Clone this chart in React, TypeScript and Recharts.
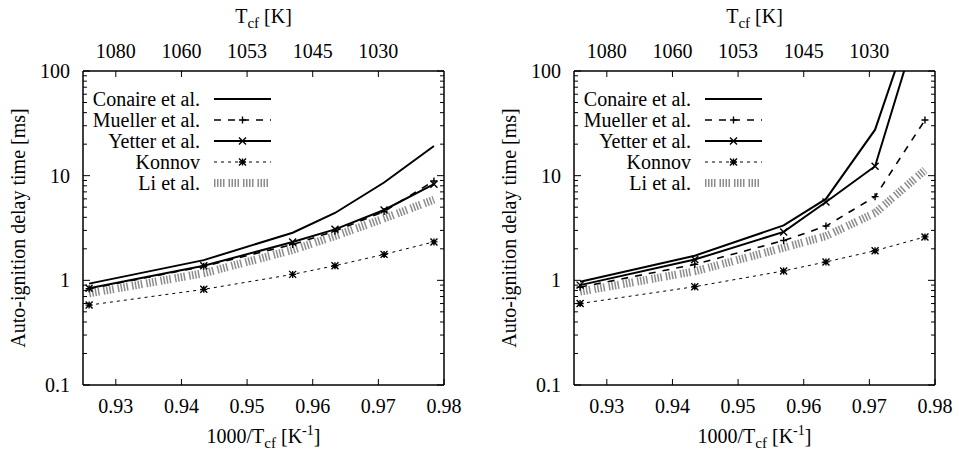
import { Legend, Line, LineChart, XAxis, YAxis } from "recharts";

const FONT = "Liberation Serif";

// 1000/T_cf at the six simulated temperatures
const invT = [0.92593, 0.9434, 0.95694, 0.96339, 0.97087, 0.97847];

const xTicks = [0.93, 0.94, 0.95, 0.96, 0.97, 0.98];
const topTicks = [0.93, 0.94, 0.95, 0.96, 0.97];
const topLabels = ["1080", "1060", "1053", "1045", "1030"];
const yMajor = [0.1, 1, 10, 100];
const yTicks = [
	0.1, 0.2, 0.3, 0.4, 0.5, 0.6, 0.7, 0.8, 0.9, 1, 2, 3, 4, 5, 6, 7, 8, 9, 10,
	20, 30, 40, 50, 60, 70, 80, 90, 100,
];

// left panel
const leftConaire = [0.93, 1.56, 2.85, 4.4, 8.6, 19.2];
const leftMueller = [0.83, 1.36, 2.2, 2.95, 4.55, 8.9];
const leftYetter = [0.84, 1.38, 2.32, 3.07, 4.7, 8.3];
const leftKonnov = [0.58, 0.82, 1.14, 1.38, 1.77, 2.33];
const leftLi = [0.75, 1.17, 1.95, 2.65, 3.9, 5.9];

// right panel
const rightConaire = [0.97, 1.72, 3.35, 6.0, 27.5, 690];
const rightMueller = [0.86, 1.42, 2.4, 3.3, 6.3, 34];
const rightYetter = [0.9, 1.58, 2.9, 5.6, 12.3, 450];
const rightKonnov = [0.6, 0.87, 1.23, 1.5, 1.92, 2.6];
const rightLi = [0.78, 1.22, 2.05, 2.65, 4.4, 11.3];

type MarkerKind = "plus" | "cross" | "star";

const series: {
	key: string;
	name: string;
	color: string;
	width: number;
	dash?: string;
	marker?: MarkerKind;
}[] = [
	{ key: "conaire", name: "Conaire et al.", color: "#000", width: 2 },
	{ key: "mueller", name: "Mueller et al.", color: "#000", width: 1.6, dash: "7 7", marker: "plus" },
	{ key: "yetter", name: "Yetter et al.", color: "#000", width: 2, marker: "cross" },
	{ key: "konnov", name: "Konnov", color: "#000", width: 1, dash: "3 4", marker: "star" },
	{ key: "li", name: "Li et al.", color: "#8c8c8c", width: 8, dash: "1.5 1.5 1.5 1.5 1.5 1.5 1.5 4" },
];

const buildRows = (c: number[], m: number[], y: number[], k: number[], l: number[]) =>
	invT.map((x, i) => ({ x, conaire: c[i], mueller: m[i], yetter: y[i], konnov: k[i], li: l[i] }));

const leftData = buildRows(leftConaire, leftMueller, leftYetter, leftKonnov, leftLi);
const rightData = buildRows(rightConaire, rightMueller, rightYetter, rightKonnov, rightLi);

const txt = { fontFamily: FONT, fontSize: 20, fill: "#000" };

const Marker = ({ kind, cx, cy }: { kind: MarkerKind; cx: number; cy: number }) => {
	const r = 3.5;
	const plus = `M${cx - r},${cy}H${cx + r}M${cx},${cy - r}V${cy + r}`;
	const cross = `M${cx - r},${cy - r}L${cx + r},${cy + r}M${cx - r},${cy + r}L${cx + r},${cy - r}`;
	const d = kind === "plus" ? plus : kind === "cross" ? cross : plus + cross;
	return <path d={d} stroke="#000" strokeWidth={1.4} fill="none" />;
};

const LegendBox = () => (
	<svg width={200} height={110} style={{ overflow: "visible" }}>
		{series.map((s, i) => {
			const y = 10 + i * 21;
			return (
				<g key={s.key}>
					<text x={117} y={y + 7} textAnchor="end" style={txt}>
						{s.name}
					</text>
					<line
						x1={131}
						x2={188}
						y1={y}
						y2={y}
						stroke={s.color}
						strokeWidth={s.width}
						strokeDasharray={s.dash}
					/>
					{s.marker && <Marker kind={s.marker} cx={159.5} cy={y} />}
				</g>
			);
		})}
	</svg>
);

const LeftTick = (props: any) => {
	const { x, y, payload } = props;
	const major = yMajor.includes(payload.value);
	return (
		<g>
			<line x1={x} x2={x + (major ? 7 : 4)} y1={y} y2={y} stroke="#000" strokeWidth={1} />
			{major && (
				<text x={x - 13} y={y + 7} textAnchor="end" style={txt}>
					{payload.value}
				</text>
			)}
		</g>
	);
};

const RightTick = (props: any) => {
	const { x, y, payload } = props;
	const major = yMajor.includes(payload.value);
	return <line x1={x} x2={x - (major ? 7 : 4)} y1={y} y2={y} stroke="#000" strokeWidth={1} />;
};

const BottomTick = (props: any) => {
	const { x, y, payload } = props;
	return (
		<g>
			<line x1={x} x2={x} y1={y} y2={y - 6} stroke="#000" strokeWidth={1} />
			<text x={x} y={y + 28} textAnchor="middle" style={txt}>
				{payload.value.toFixed(2)}
			</text>
		</g>
	);
};

const TopTick = (props: any) => {
	const { x, y, payload, index } = props;
	return (
		<g>
			<line x1={x} x2={x} y1={y} y2={y + 6} stroke="#000" strokeWidth={1} />
			<text x={x} y={y - 13} textAnchor="middle" style={txt}>
				{topLabels[index] ?? payload.value}
			</text>
		</g>
	);
};

const axisLine = { stroke: "#000", strokeWidth: 1.5 };

const Panel = ({ data, plotLeft, plotRight }: { data: any[]; plotLeft: number; plotRight: number }) => (
	<LineChart
		width={479}
		height={455}
		data={data}
		margin={{ top: 31, right: 479 - plotRight - 10, bottom: 30, left: plotLeft - 50 }}
	>
		<XAxis
			xAxisId="bot"
			dataKey="x"
			type="number"
			domain={[0.925, 0.98]}
			allowDataOverflow
			ticks={xTicks}
			interval={0}
			height={40}
			tickSize={0}
			tickMargin={0}
			tickLine={false}
			axisLine={axisLine}
			tick={<BottomTick />}
			label={{
				content: (p: any) => {
					const vb = p.viewBox;
					return (
						<text x={vb.x + vb.width / 2} y={vb.y + 58} textAnchor="middle" style={txt}>
							1000/T
							<tspan fontSize={15} dy={5}>cf</tspan>
							<tspan dy={-5}> [K</tspan>
							<tspan fontSize={14} dy={-8}>-1</tspan>
							<tspan dy={8}>]</tspan>
						</text>
					);
				},
			}}
		/>
		<XAxis
			xAxisId="top"
			orientation="top"
			dataKey="x"
			type="number"
			domain={[0.925, 0.98]}
			allowDataOverflow
			ticks={topTicks}
			interval={0}
			height={40}
			tickSize={0}
			tickMargin={0}
			tickLine={false}
			axisLine={axisLine}
			tick={<TopTick />}
			label={{
				content: (p: any) => {
					const vb = p.viewBox;
					return (
						<text x={vb.x + vb.width / 2} y={vb.y + vb.height - 48} textAnchor="middle" style={txt}>
							T
							<tspan fontSize={15} dy={5}>cf</tspan>
							<tspan dy={-5}> [K]</tspan>
						</text>
					);
				},
			}}
		/>
		<YAxis
			yAxisId="l"
			type="number"
			scale="log"
			domain={[0.1, 100]}
			allowDataOverflow
			ticks={yTicks}
			interval={0}
			width={50}
			tickSize={0}
			tickMargin={0}
			tickLine={false}
			axisLine={axisLine}
			tick={<LeftTick />}
			label={{
				content: (p: any) => {
					const vb = p.viewBox;
					const cx = vb.x + vb.width - 58;
					const cy = vb.y + vb.height / 2;
					return (
						<text x={cx} y={cy} transform={`rotate(-90 ${cx} ${cy})`} textAnchor="middle" style={txt}>
							Auto-ignition delay time [ms]
						</text>
					);
				},
			}}
		/>
		<YAxis
			yAxisId="r"
			orientation="right"
			type="number"
			scale="log"
			domain={[0.1, 100]}
			allowDataOverflow
			ticks={yTicks}
			interval={0}
			width={10}
			tickSize={0}
			tickMargin={0}
			tickLine={false}
			axisLine={axisLine}
			tick={<RightTick />}
		/>
		<Legend
			layout="horizontal"
			verticalAlign="middle"
			align="center"
			wrapperStyle={{ left: plotLeft, top: 89, width: 200, height: 110 }}
			content={() => <LegendBox />}
		/>
		{series.map((s) => (
			<Line
				key={s.key}
				xAxisId="bot"
				yAxisId="l"
				dataKey={s.key}
				name={s.name}
				stroke={s.color}
				strokeWidth={s.width}
				strokeDasharray={s.dash}
				type="linear"
				isAnimationActive={false}
				activeDot={false}
				dot={
					s.marker
						? (p: any) =>
								p.cx == null || p.cy == null ? (
									<g key={p.key} />
								) : (
									<Marker key={p.key} kind={s.marker as MarkerKind} cx={p.cx} cy={p.cy} />
								)
						: false
				}
			/>
		))}
	</LineChart>
);

export default function App() {
	return (
		<div style={{ position: "absolute", left: 0, top: 0, width: 959, height: 455, background: "#fff" }}>
			<div style={{ position: "absolute", left: 0, top: 0 }}>
				<Panel data={leftData} plotLeft={83} plotRight={444} />
			</div>
			<div style={{ position: "absolute", left: 480, top: 0 }}>
				<Panel data={rightData} plotLeft={94} plotRight={455} />
			</div>
		</div>
	);
}
